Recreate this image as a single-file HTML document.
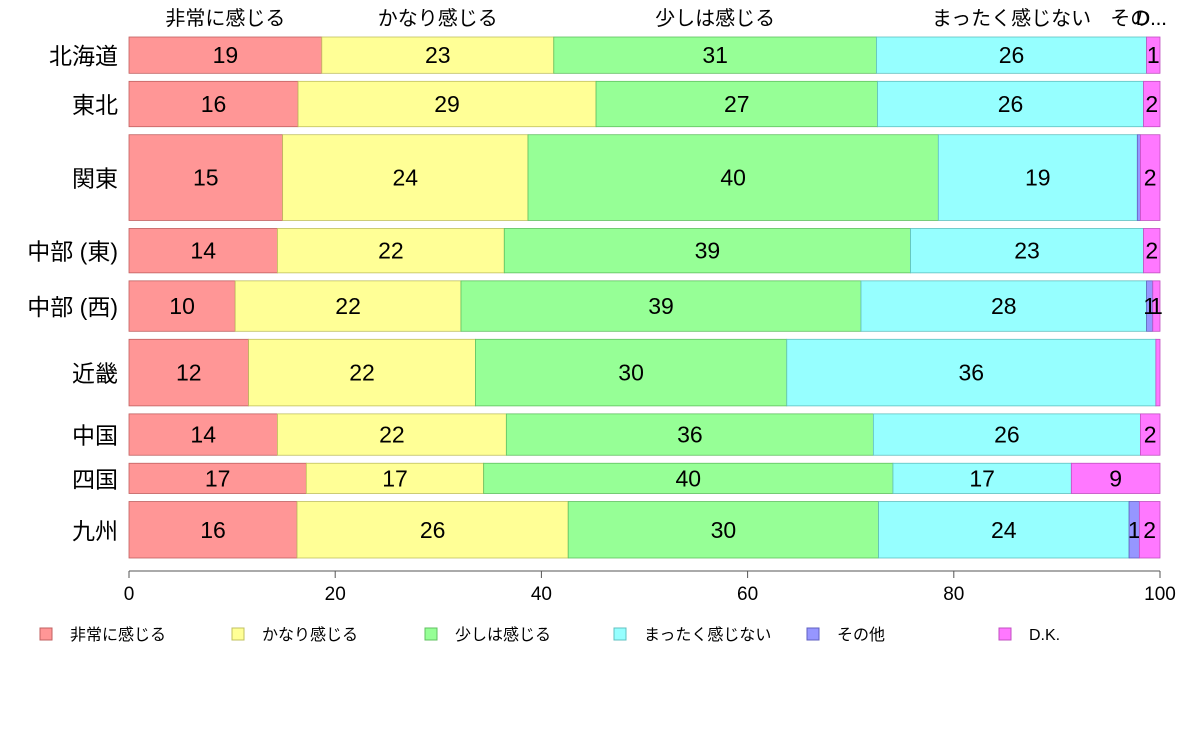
<!DOCTYPE html>
<html><head><meta charset="utf-8"><style>
body{margin:0;background:#fff;}
svg text{font-family:"Liberation Sans","Noto Sans CJK JP",sans-serif;}
</style></head><body>
<svg id="c" width="1188" height="736"></svg>
<script>
const regions=["北海道","東北","関東","中部 (東)","中部 (西)","近畿","中国","四国","九州"];
const weights=[36,45,85,44,50,66,41,30,56];
const sHijou=[18.7,16.4,14.9,14.4,10.3,11.6,14.4,17.2,16.3];
const sKanari=[22.5,28.9,23.8,22.0,21.9,22.0,22.2,17.2,26.3];
const sSukoshi=[31.3,27.3,39.8,39.4,38.8,30.2,35.6,39.7,30.1];
const sMattaku=[26.2,25.8,19.3,22.6,27.7,35.8,25.9,17.3,24.3];
const sSonota=[0,0,0.3,0,0.6,0,0,0,1.0];
const sDK=[1.3,1.6,1.9,1.6,0.7,0.4,1.9,8.6,2.0];
const seriesNames=["非常に感じる","かなり感じる","少しは感じる","まったく感じない","その他","D.K."];
const topLabels=["非常に感じる","かなり感じる","少しは感じる","まったく感じない","その...","D..."];
const xTicks=[0,20,40,60,80,100];
const series=[sHijou,sKanari,sSukoshi,sMattaku,sSonota,sDK];
const fills=["#ff9696","#ffff96","#96ff96","#96ffff","#9696ff","#ff78ff"];
const strokes=["#c06060","#c0c060","#60c060","#60c0c0","#6060c0","#c050c0"];
const NS="http://www.w3.org/2000/svg";
const svg=document.getElementById('c');
function el(t,a,txt){const e=document.createElementNS(NS,t);for(const k in a)e.setAttribute(k,a[k]);if(txt!==undefined)e.textContent=txt;svg.appendChild(e);return e;}
const x0=129,x1=1160,yTop=37,yBot=558,gap=8;
const xs=v=>x0+(x1-x0)*v/100;
const totalW=weights.reduce((a,b)=>a+b,0);
const unit=(yBot-yTop-gap*(regions.length-1))/totalW;
let y=yTop;
regions.forEach((r,i)=>{
  const h=weights[i]*unit;
  let cum=0;
  series.forEach((s,j)=>{
    const v=s[i];
    if(v>0){
      const rc=el('rect',{x:xs(cum),y:y,width:xs(cum+v)-xs(cum),height:h,fill:fills[j],stroke:strokes[j],'stroke-width':0.8});
      
      
      if(v>=0.5){
        const t=el('text',{x:(xs(cum)+xs(cum+v))/2,y:y+h/2+8,'text-anchor':'middle','font-size':23,fill:'#000'},String(Math.round(v)));
        
        
      }
    }
    if(i===0){
      const t=el('text',{x:(xs(cum)+xs(cum+v))/2+(j===4?-8:j===5?-2:0),y:25,'text-anchor':'middle','font-size':20},topLabels[j]);
      
      
    }
    cum+=v;
  });
  const t=el('text',{x:118,y:y+h/2+9,'text-anchor':'end','font-size':23},r);
  
  
  y+=h+gap;
});
const ax=el('line',{x1:x0,y1:571,x2:x1,y2:571,stroke:'#555','stroke-width':1});


xTicks.forEach(v=>{
  el('line',{x1:xs(v),y1:571,x2:xs(v),y2:578,stroke:'#555'});
  const t=el('text',{x:xs(v),y:600,'text-anchor':'middle','font-size':19},String(v));
  
  
});
const lx=[40,232,425,614,807,999];
seriesNames.forEach((n,j)=>{
  const r=el('rect',{x:lx[j],y:628,width:12,height:12,fill:fills[j],stroke:strokes[j]});
  
  
  const t=el('text',{x:lx[j]+30,y:640,'font-size':16},n);
  
  
});
</script>
</body></html>
